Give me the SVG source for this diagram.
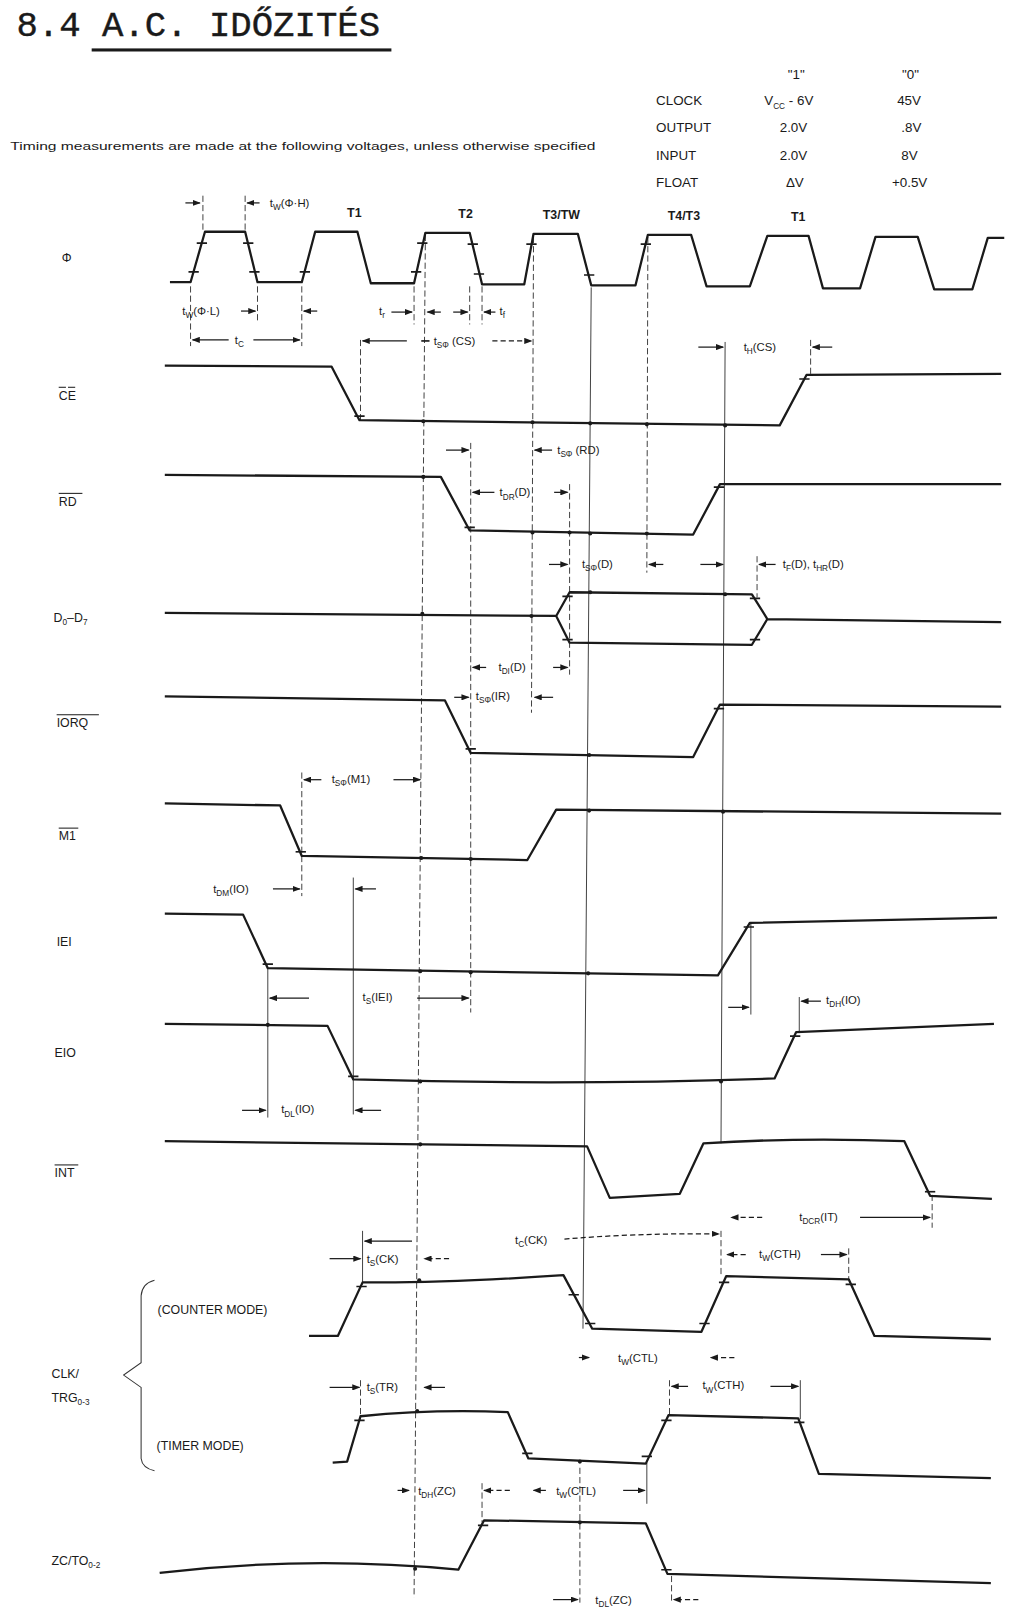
<svg xmlns="http://www.w3.org/2000/svg" width="1024" height="1615" viewBox="0 0 1024 1615">
<defs>
<marker id="ah" markerWidth="8" markerHeight="6" refX="7" refY="3" orient="auto" markerUnits="userSpaceOnUse">
<path d="M0,0 L8,3 L0,6 Z" fill="#1a1a1a"/>
</marker>
<style>
.sig{fill:none;stroke:#1a1a1a;stroke-width:2.2;stroke-linejoin:round}
.vl{fill:none;stroke:#333;stroke-width:0.9}
.vd{fill:none;stroke:#333;stroke-width:0.9;stroke-dasharray:6 3}
.tk{stroke:#1a1a1a;stroke-width:1.6}
.ar{stroke:#1a1a1a;stroke-width:1.2;fill:none;marker-end:url(#ah)}
.ard{stroke:#1a1a1a;stroke-width:1.2;fill:none;stroke-dasharray:5 3;marker-end:url(#ah)}
.dot{fill:#1a1a1a}
.lbl{font-family:"Liberation Sans",Arial,sans-serif;font-size:12px;fill:#1a1a1a}
.ann{font-family:"Liberation Sans",Arial,sans-serif;font-size:11px;fill:#1a1a1a}
.sub{font-size:8px}
.tab{font-family:"Liberation Sans",Arial,sans-serif;font-size:13px;fill:#1a1a1a}
.tl{font-family:"Liberation Sans",Arial,sans-serif;font-size:12px;font-weight:bold;fill:#1a1a1a}
.bar{stroke:#1a1a1a;stroke-width:1}
</style>
</defs>
<rect width="1024" height="1615" fill="#ffffff"/>
<g transform="scale(1.03)">

<g id="title">
<text x="16" y="35" font-family="'Liberation Mono',monospace" font-size="34" fill="#1a1a1a" stroke="#1a1a1a" stroke-width="0.4" textLength="353" lengthAdjust="spacingAndGlyphs">8.4 A.C. IDŐZITÉS</text>
<rect x="89" y="47" width="291" height="3" fill="#1a1a1a"/>
</g>

<g id="note">
<text x="10" y="146" class="ann" font-size="10.5" textLength="568" lengthAdjust="spacingAndGlyphs">Timing measurements are made at the following voltages, unless otherwise specified</text>
</g>

<g id="voltage-table" class="tab">
<text x="773" y="77" text-anchor="middle">"1"</text>
<text x="884" y="77" text-anchor="middle">"0"</text>
<text x="637" y="102">CLOCK</text>
<text x="742" y="102">V<tspan class="sub" font-size="10" dy="4">CC</tspan><tspan dy="-4"> - 6V</tspan></text>
<text x="871" y="102">45V</text>
<text x="637" y="128">OUTPUT</text>
<text x="757" y="128">2.0V</text>
<text x="875" y="128">.8V</text>
<text x="637" y="155">INPUT</text>
<text x="757" y="155">2.0V</text>
<text x="875" y="155">8V</text>
<text x="637" y="182">FLOAT</text>
<text x="763" y="182">ΔV</text>
<text x="866" y="182">+0.5V</text>
</g>

<g id="labels" class="lbl">
<text x="60" y="254">Φ</text>
<text x="57" y="388">CE</text>
<line class="bar" x1="57" y1="376" x2="64" y2="376"/><line class="bar" x1="66" y1="376" x2="73" y2="376"/>
<text x="57" y="491">RD</text>
<line class="bar" x1="57" y1="479" x2="80" y2="479"/>
<text x="52" y="604">D<tspan class="sub" dy="3">0</tspan><tspan dy="-3">–D</tspan><tspan class="sub" dy="3">7</tspan></text>
<text x="55" y="706">IORQ</text>
<line class="bar" x1="55" y1="694" x2="96" y2="694"/>
<text x="57" y="816">M1</text>
<line class="bar" x1="57" y1="804" x2="76" y2="804"/>
<text x="55" y="918">IEI</text>
<text x="53" y="1026">EIO</text>
<text x="53" y="1143">INT</text>
<line class="bar" x1="53" y1="1131" x2="76" y2="1131"/>
<text x="50" y="1338">CLK/</text>
<text x="50" y="1361">TRG<tspan class="sub" dy="3">0-3</tspan></text>
<text x="153" y="1276">(COUNTER MODE)</text>
<text x="152" y="1408">(TIMER MODE)</text>
<text x="50" y="1519">ZC/TO<tspan class="sub" dy="3">0-2</tspan></text>
<path d="M150,1243 Q138,1246 137,1258 L137,1323 L120,1335 L137,1347 L137,1416 Q138,1425 150,1428" fill="none" stroke="#333" stroke-width="1"/>
</g>

<g id="cycle-labels" class="tl">
<text x="344" y="211" text-anchor="middle">T1</text>
<text x="452" y="212" text-anchor="middle">T2</text>
<text x="545" y="213" text-anchor="middle">T3/TW</text>
<text x="664" y="214" text-anchor="middle">T4/T3</text>
<text x="775" y="215" text-anchor="middle">T1</text>
</g>

<g id="connectors">
<path class="vd" d="M413,228 L402,1551" stroke-dasharray="14 2"/>
<path class="vl" d="M574,279 L566,1290"/>
<path class="vd" d="M518,230 L516,692" stroke-dasharray="14 2"/>
<path class="vd" d="M629,230 L628,556" stroke-dasharray="14 2"/>
<path class="vl" d="M704,332 L700,1110"/>
<path class="vd" d="M457,430 L457,983" stroke-dasharray="14 2"/>
<path class="vd" d="M553,470 L553,655"/>
<path class="vd" d="M350,330 L350,408"/>
<path class="vd" d="M185,278 V336"/>
<path class="vd" d="M250,278 V312"/>
<path class="vd" d="M293,278 V336"/>
<path class="vd" d="M197,190 V226"/>
<path class="vd" d="M238,190 V226"/>
<path class="vd" d="M402,278 V315"/>
<path class="vd" d="M456,278 V315"/>
<path class="vd" d="M468,278 V315"/>
<path class="vd" d="M787,330 V366"/>
<path class="vd" d="M735,540 V580"/>
<path class="vd" d="M293,750 V870"/>
<path class="vl" d="M343,852 V1082"/>
<path class="vl" d="M260,940 V1085"/>
<path class="vl" d="M729,897 V985"/>
<path class="vl" d="M776,968 V1003"/>
<path class="vd" d="M905,1160 V1192"/>
<path class="vl" d="M352,1195 V1247"/>
<path class="vd" d="M824,1212 V1242"/>
<path class="vd" d="M700,1195 V1240"/>
<path class="vd" d="M350,1340 V1378"/>
<path class="vd" d="M650,1340 V1376"/>
<path class="vl" d="M777,1340 V1378"/>
<path class="vl" d="M628,1420 V1460"/>
<path class="vd" d="M468,1440 V1478"/>
<path class="vd" d="M563,1425 V1556"/>
<path class="vd" d="M652,1530 V1557"/>

<line class="ar" x1="180" y1="197" x2="194" y2="197"/>
<line class="ar" x1="252" y1="197" x2="240" y2="197"/>
<line class="ar" x1="234" y1="302" x2="248" y2="302"/>
<line class="ar" x1="308" y1="302" x2="295" y2="302"/>
<line class="ar" x1="222" y1="330" x2="187" y2="330"/>
<line class="ar" x1="246" y1="330" x2="291" y2="330"/>
<line class="ar" x1="380" y1="303" x2="400" y2="303"/>
<line class="ar" x1="428" y1="303" x2="415" y2="303"/>
<line class="ar" x1="440" y1="303" x2="454" y2="303"/>
<line class="ar" x1="481" y1="303" x2="470" y2="303"/>
<line class="ar" x1="395" y1="331" x2="352" y2="331"/>
<line class="tk" x1="409" y1="331" x2="417" y2="331"/>
<line class="ard" x1="478" y1="331" x2="516" y2="331"/>
<line class="ar" x1="678" y1="337" x2="702" y2="337"/>
<line class="ar" x1="808" y1="337" x2="789" y2="337"/>
<line class="ar" x1="433" y1="437" x2="455" y2="437"/>
<line class="ar" x1="536" y1="437" x2="519" y2="437"/>
<line class="ar" x1="480" y1="478" x2="459" y2="478"/>
<line class="ar" x1="538" y1="478" x2="551" y2="478"/>
<line class="ar" x1="533" y1="548" x2="551" y2="548"/>
<line class="ar" x1="644" y1="548" x2="630" y2="548"/>
<line class="ar" x1="680" y1="548" x2="702" y2="548"/>
<line class="ar" x1="753" y1="548" x2="737" y2="548"/>
<line class="ar" x1="472" y1="648" x2="459" y2="648"/>
<line class="ar" x1="537" y1="648" x2="551" y2="648"/>
<line class="ar" x1="441" y1="677" x2="455" y2="677"/>
<line class="ar" x1="537" y1="677" x2="519" y2="677"/>
<line class="ar" x1="312" y1="757" x2="295" y2="757"/>
<line class="ar" x1="382" y1="757" x2="408" y2="757"/>
<line class="ar" x1="265" y1="863" x2="291" y2="863"/>
<line class="ar" x1="365" y1="863" x2="345" y2="863"/>
<line class="ar" x1="300" y1="969" x2="262" y2="969"/>
<line class="ar" x1="405" y1="969" x2="455" y2="969"/>
<line class="ar" x1="707" y1="978" x2="727" y2="978"/>
<line class="ar" x1="797" y1="972" x2="778" y2="972"/>
<line class="ar" x1="235" y1="1078" x2="258" y2="1078"/>
<line class="ar" x1="370" y1="1078" x2="345" y2="1078"/>
<line class="ard" x1="740" y1="1182" x2="710" y2="1182"/>
<line class="ar" x1="835" y1="1182" x2="903" y2="1182"/>
<line class="ar" x1="400" y1="1205" x2="354" y2="1205"/>
<path class="ard" d="M548,1203 Q620,1197 698,1198"/>
<line class="ar" x1="320" y1="1222" x2="350" y2="1222"/>
<line class="ard" x1="436" y1="1222" x2="412" y2="1222"/>
<line class="ard" x1="724" y1="1218" x2="706" y2="1218"/>
<line class="ar" x1="797" y1="1218" x2="822" y2="1218"/>
<line class="ar" x1="562" y1="1318" x2="572" y2="1318"/>
<line class="ard" x1="713" y1="1318" x2="690" y2="1318"/>
<line class="ar" x1="320" y1="1347" x2="349" y2="1347"/>
<line class="ar" x1="432" y1="1347" x2="412" y2="1347"/>
<line class="ar" x1="668" y1="1346" x2="652" y2="1346"/>
<line class="ar" x1="748" y1="1346" x2="775" y2="1346"/>
<line class="ar" x1="386" y1="1447" x2="397" y2="1447"/>
<line class="ard" x1="495" y1="1447" x2="470" y2="1447"/>
<line class="ar" x1="530" y1="1447" x2="518" y2="1447"/>
<line class="ar" x1="605" y1="1447" x2="626" y2="1447"/>
<line class="ar" x1="537" y1="1553" x2="561" y2="1553"/>
<line class="ard" x1="678" y1="1553" x2="654" y2="1553"/>
</g>

<g id="annotations" class="ann">
<text x="262" y="201">t<tspan class="sub" dy="3">W</tspan><tspan dy="-3">(Φ·H)</tspan></text>
<text x="177" y="306">t<tspan class="sub" dy="3">W</tspan><tspan dy="-3">(Φ·L)</tspan></text>
<text x="228" y="334">t<tspan class="sub" dy="3">C</tspan></text>
<text x="368" y="306">t<tspan class="sub" dy="3">r</tspan></text>
<text x="485" y="306">t<tspan class="sub" dy="3">f</tspan></text>
<text x="421" y="335">t<tspan class="sub" dy="3">SΦ</tspan><tspan dy="-3"> (CS)</tspan></text>
<text x="722" y="341">t<tspan class="sub" dy="3">H</tspan><tspan dy="-3">(CS)</tspan></text>
<text x="541" y="441">t<tspan class="sub" dy="3">SΦ</tspan><tspan dy="-3"> (RD)</tspan></text>
<text x="485" y="482">t<tspan class="sub" dy="3">DR</tspan><tspan dy="-3">(D)</tspan></text>
<text x="565" y="551">t<tspan class="sub" dy="3">SΦ</tspan><tspan dy="-3">(D)</tspan></text>
<text x="760" y="551">t<tspan class="sub" dy="3">F</tspan><tspan dy="-3">(D), t</tspan><tspan class="sub" dy="3">HR</tspan><tspan dy="-3">(D)</tspan></text>
<text x="484" y="651">t<tspan class="sub" dy="3">DI</tspan><tspan dy="-3">(D)</tspan></text>
<text x="462" y="680">t<tspan class="sub" dy="3">SΦ</tspan><tspan dy="-3">(IR)</tspan></text>
<text x="322" y="760">t<tspan class="sub" dy="3">SΦ</tspan><tspan dy="-3">(M1)</tspan></text>
<text x="207" y="867">t<tspan class="sub" dy="3">DM</tspan><tspan dy="-3">(IO)</tspan></text>
<text x="352" y="972">t<tspan class="sub" dy="3">S</tspan><tspan dy="-3">(IEI)</tspan></text>
<text x="802" y="975">t<tspan class="sub" dy="3">DH</tspan><tspan dy="-3">(IO)</tspan></text>
<text x="273" y="1081">t<tspan class="sub" dy="3">DL</tspan><tspan dy="-3">(IO)</tspan></text>
<text x="776" y="1185">t<tspan class="sub" dy="3">DCR</tspan><tspan dy="-3">(IT)</tspan></text>
<text x="500" y="1208">t<tspan class="sub" dy="3">C</tspan><tspan dy="-3">(CK)</tspan></text>
<text x="356" y="1226">t<tspan class="sub" dy="3">S</tspan><tspan dy="-3">(CK)</tspan></text>
<text x="737" y="1221">t<tspan class="sub" dy="3">W</tspan><tspan dy="-3">(CTH)</tspan></text>
<text x="600" y="1322">t<tspan class="sub" dy="3">W</tspan><tspan dy="-3">(CTL)</tspan></text>
<text x="356" y="1350">t<tspan class="sub" dy="3">S</tspan><tspan dy="-3">(TR)</tspan></text>
<text x="682" y="1349">t<tspan class="sub" dy="3">W</tspan><tspan dy="-3">(CTH)</tspan></text>
<text x="406" y="1451">t<tspan class="sub" dy="3">DH</tspan><tspan dy="-3">(ZC)</tspan></text>
<text x="540" y="1451">t<tspan class="sub" dy="3">W</tspan><tspan dy="-3">(CTL)</tspan></text>
<text x="578" y="1557">t<tspan class="sub" dy="3">DL</tspan><tspan dy="-3">(ZC)</tspan></text>
</g>

<g id="sig-clock">
<path class="sig" d="M165,274 H185 L199,225 H238 L250,274 H293 L306,225 H347 L360,275 H402 L413,226 H456 L468,276 H509 L518,227 H561 L574,277 H617 L629,228 H671 L686,278 H728 L745,229 H785 L799,280 H835 L850,230 H891 L907,281 H944 L959,231 H975"/>
<path class="tk" d="M183,264h10 M191,236h10 M236,236h10 M242,264h10 M291,264h10 M399,264h10 M405,236h10 M454,237h10 M460,266h10 M511,237h10 M567,267h10 M622,237h10"/>
</g>

<g id="sig-ce">
<path class="sig" d="M160,355 L322,356 L349,408 L757,413 L783,364 L972,363"/>
<path class="tk" d="M344,404h10 M776,368h10"/>
<circle class="dot" cx="411" cy="409" r="2"/><circle class="dot" cx="517" cy="410" r="2"/><circle class="dot" cx="573" cy="411" r="2"/><circle class="dot" cx="628" cy="412" r="2"/><circle class="dot" cx="704" cy="413" r="2"/>
</g>

<g id="sig-rd">
<path class="sig" d="M160,461 L428,463 L456,515 L673,519 L699,470 L972,470"/>
<path class="tk" d="M451,512h10 M693,473h10"/>
<circle class="dot" cx="411" cy="463" r="2"/><circle class="dot" cx="517" cy="517" r="2"/><circle class="dot" cx="553" cy="517" r="2"/><circle class="dot" cx="573" cy="518" r="2"/><circle class="dot" cx="628" cy="518" r="2"/>
</g>

<g id="sig-d">
<path class="sig" d="M160,595 L540,598 M540,598 L553,575 L730,577 L745,601 L730,626 L553,624 Z M745,601 L972,604"/>
<path class="tk" d="M546,579h10 M546,621h10 M728,581h10 M728,621h10"/>
<circle class="dot" cx="410" cy="596" r="2"/><circle class="dot" cx="516" cy="598" r="2"/><circle class="dot" cx="573" cy="575" r="2"/><circle class="dot" cx="704" cy="577" r="2"/>
</g>

<g id="sig-iorq">
<path class="sig" d="M160,676 L432,680 L457,731 L673,735 L699,684 L972,686"/>
<path class="tk" d="M452,727h10 M693,688h10"/>
<circle class="dot" cx="572" cy="733" r="2"/>
</g>

<g id="sig-m1">
<path class="sig" d="M160,780 L272,782 L293,831 L512,835 L540,786 L972,790"/>
<path class="tk" d="M287,827h10"/>
<circle class="dot" cx="409" cy="833" r="2"/><circle class="dot" cx="457" cy="834" r="2"/><circle class="dot" cx="572" cy="787" r="2"/><circle class="dot" cx="702" cy="788" r="2"/>
</g>

<g id="sig-iei">
<path class="sig" d="M160,887 L236,888 L260,940 L697,947 L728,896 L968,891"/>
<path class="tk" d="M255,936h10 M722,900h10"/>
<circle class="dot" cx="408" cy="943" r="2"/><circle class="dot" cx="457" cy="944" r="2"/><circle class="dot" cx="571" cy="945" r="2"/>
</g>

<g id="sig-eio">
<path class="sig" d="M160,994 L318,996 L343,1048 Q550,1054 752,1047 L773,1002 L965,994"/>
<path class="tk" d="M338,1045h10 M767,1006h10"/>
<circle class="dot" cx="260" cy="995" r="2"/><circle class="dot" cx="408" cy="1050" r="2"/><circle class="dot" cx="700" cy="1050" r="2"/>
</g>

<g id="sig-int">
<path class="sig" d="M160,1108 L570,1113 L592,1163 L660,1159 L683,1110 Q780,1104 878,1108 L903,1161 L963,1164"/>
<path class="tk" d="M898,1157h10"/>
<circle class="dot" cx="408" cy="1111" r="2"/>
</g>

<g id="sig-counter">
<path class="sig" d="M300,1297 L328,1297 L352,1245 Q430,1246 547,1238 L575,1290 L681,1293 L705,1239 L824,1242 L849,1297 L962,1300"/>
<path class="tk" d="M346,1249h10 M552,1257h10 M568,1285h10 M679,1285h10 M698,1245h10 M821,1247h10"/>
<circle class="dot" cx="407" cy="1243" r="2"/>
</g>

<g id="sig-timer">
<path class="sig" d="M323,1420 L337,1419 L350,1375 Q420,1368 493,1371 L513,1416 L627,1421 L649,1374 L775,1377 L795,1431 L962,1435"/>
<path class="tk" d="M344,1379h10 M507,1411h10 M623,1414h10 M642,1379h10 M771,1381h10"/>
<circle class="dot" cx="405" cy="1370" r="2"/><circle class="dot" cx="563" cy="1419" r="2"/>
</g>

<g id="sig-zc">
<path class="sig" d="M155,1527 Q300,1510 445,1524 L470,1476 L627,1479 L648,1528 Q800,1532 962,1537"/>
<path class="tk" d="M464,1481h10 M642,1524h10"/>
<circle class="dot" cx="403" cy="1523" r="2"/><circle class="dot" cx="563" cy="1478" r="2"/>
</g>
</g>
</svg>
